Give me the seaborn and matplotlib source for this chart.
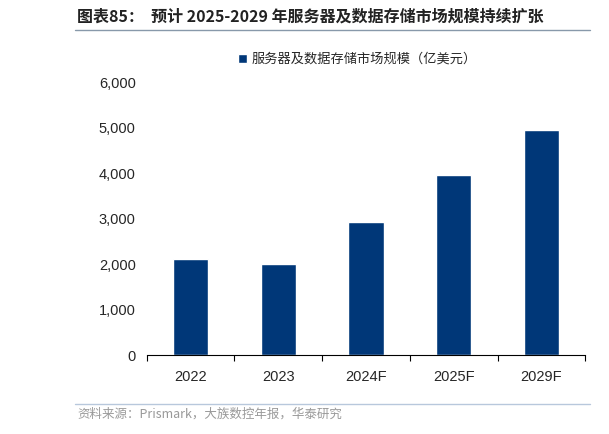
import matplotlib
matplotlib.use("Agg")
import matplotlib.pyplot as plt
import seaborn as sns
import pandas as pd
from matplotlib.lines import Line2D

years = ["2022", "2023", "2024F", "2025F", "2029F"]
market_size = [2100, 2000, 2920, 3960, 4950]
series_name = "服务器及数据存储市场规模（亿美元）"

sns.set_style("white")
plt.rcParams["font.family"] = ["Noto Sans CJK SC", "DejaVu Sans"]

df = pd.DataFrame({"year": years, "value": market_size, "series": series_name})

fig = plt.figure(figsize=(6.09, 4.34), dpi=100)
ax = fig.add_axes([0.241, 0.182, 0.72, 0.629])
sns.barplot(data=df, x="year", y="value", hue="series", palette=["#003778"],
            saturation=1, width=0.4, ax=ax)

ax.set_ylim(0, 6000)
ax.set_xlim(-0.5, 4.5)
ax.set_yticks(range(0, 6001, 1000))
ax.set_yticklabels([f"{v:,}" for v in range(0, 6001, 1000)], family="Liberation Sans", fontsize=10.5)
ax.set_xticks([i - 0.5 for i in range(6)])
ax.set_xticklabels([])
for i, y in enumerate(years):
    ax.text(i, -330, y, ha="center", va="top", fontsize=10.5, family="Liberation Sans")
ax.tick_params(axis="x", direction="out", length=4, color="black", bottom=True)
ax.set_xlabel("")
ax.set_ylabel("")
for s in ["top", "right", "left"]:
    ax.spines[s].set_visible(False)
ax.spines["bottom"].set_color("black")
ax.tick_params(axis="y", length=0, pad=8)

ax.legend(loc="upper center", bbox_to_anchor=(0.48, 1.15), frameon=False,
          fontsize=9.5, handlelength=0.7, handleheight=0.7, handletextpad=0.3)

fig.text(0.127, 0.962, "图表85：  预计 2025-2029 年服务器及数据存储市场规模持续扩张",
         fontsize=11.5, fontweight="bold", va="center", color="#222222")
fig.add_artist(Line2D([0.123, 0.969], [0.931, 0.931], color="#8899aa", lw=1))
fig.add_artist(Line2D([0.123, 0.969], [0.069, 0.069], color="#b8c8dc", lw=1))
fig.text(0.127, 0.046, "资料来源：Prismark，大族数控年报，华泰研究",
         fontsize=9, color="#999999", va="center")

fig.savefig("out.png", dpi=100)
